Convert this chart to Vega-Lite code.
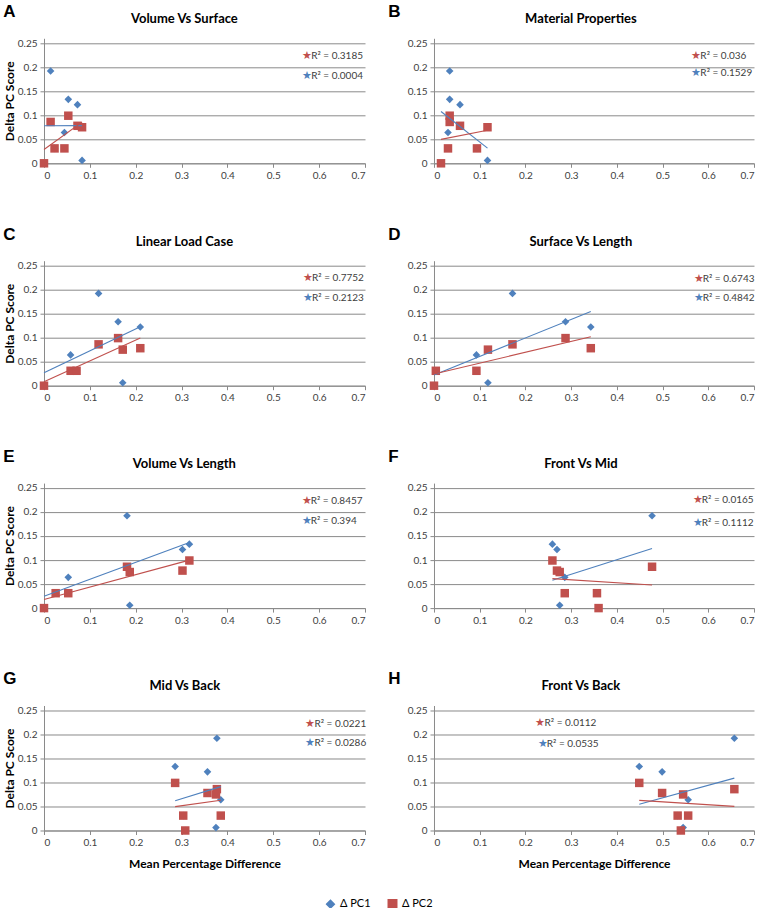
{
"$schema": "https://vega.github.io/schema/vega-lite/v6.json",
"padding": {"left": 3, "top": 2.3, "right": 2, "bottom": 0},
"datasets": {
"pts": [
{"p":"A","s":"Δ PC1","x":0.0144,"y":0.192},{"p":"A","s":"Δ PC1","x":0.053,"y":0.133},{"p":"A","s":"Δ PC1","x":0.073,"y":0.122},{"p":"A","s":"Δ PC1","x":0.0445,"y":0.064},{"p":"A","s":"Δ PC1","x":0.083,"y":0.006},{"p":"A","s":"Δ PC1","x":0,"y":0},{"p":"A","s":"Δ PC1","x":0.023,"y":0.031},
{"p":"A","s":"Δ PC2","x":0.0144,"y":0.086},{"p":"A","s":"Δ PC2","x":0.053,"y":0.099},{"p":"A","s":"Δ PC2","x":0.073,"y":0.078},{"p":"A","s":"Δ PC2","x":0.0445,"y":0.031},{"p":"A","s":"Δ PC2","x":0.083,"y":0.075},{"p":"A","s":"Δ PC2","x":0,"y":0},{"p":"A","s":"Δ PC2","x":0.023,"y":0.031},
{"p":"B","s":"Δ PC1","x":0.0343,"y":0.192},{"p":"B","s":"Δ PC1","x":0.0343,"y":0.133},{"p":"B","s":"Δ PC1","x":0.0569,"y":0.122},{"p":"B","s":"Δ PC1","x":0.0306,"y":0.064},{"p":"B","s":"Δ PC1","x":0.117,"y":0.006},{"p":"B","s":"Δ PC1","x":0.0153,"y":0},{"p":"B","s":"Δ PC1","x":0.094,"y":0.031},
{"p":"B","s":"Δ PC2","x":0.0343,"y":0.086},{"p":"B","s":"Δ PC2","x":0.0343,"y":0.099},{"p":"B","s":"Δ PC2","x":0.0569,"y":0.078},{"p":"B","s":"Δ PC2","x":0.0306,"y":0.031},{"p":"B","s":"Δ PC2","x":0.117,"y":0.075},{"p":"B","s":"Δ PC2","x":0.0153,"y":0},{"p":"B","s":"Δ PC2","x":0.094,"y":0.031},
{"p":"C","s":"Δ PC1","x":0.119,"y":0.192},{"p":"C","s":"Δ PC1","x":0.1616,"y":0.133},{"p":"C","s":"Δ PC1","x":0.21,"y":0.122},{"p":"C","s":"Δ PC1","x":0.058,"y":0.064},{"p":"C","s":"Δ PC1","x":0.1717,"y":0.006},{"p":"C","s":"Δ PC1","x":0,"y":0},{"p":"C","s":"Δ PC1","x":0.071,"y":0.031},
{"p":"C","s":"Δ PC2","x":0.119,"y":0.086},{"p":"C","s":"Δ PC2","x":0.1616,"y":0.099},{"p":"C","s":"Δ PC2","x":0.21,"y":0.078},{"p":"C","s":"Δ PC2","x":0.058,"y":0.031},{"p":"C","s":"Δ PC2","x":0.1717,"y":0.075},{"p":"C","s":"Δ PC2","x":0,"y":0},{"p":"C","s":"Δ PC2","x":0.071,"y":0.031},
{"p":"D","s":"Δ PC1","x":0.1717,"y":0.192},{"p":"D","s":"Δ PC1","x":0.2877,"y":0.133},{"p":"D","s":"Δ PC1","x":0.343,"y":0.122},{"p":"D","s":"Δ PC1","x":0.0928,"y":0.064},{"p":"D","s":"Δ PC1","x":0.118,"y":0.006},{"p":"D","s":"Δ PC1","x":0,"y":0},{"p":"D","s":"Δ PC1","x":0.004,"y":0.031},
{"p":"D","s":"Δ PC2","x":0.1717,"y":0.086},{"p":"D","s":"Δ PC2","x":0.2877,"y":0.099},{"p":"D","s":"Δ PC2","x":0.343,"y":0.078},{"p":"D","s":"Δ PC2","x":0.0928,"y":0.031},{"p":"D","s":"Δ PC2","x":0.118,"y":0.075},{"p":"D","s":"Δ PC2","x":0,"y":0},{"p":"D","s":"Δ PC2","x":0.004,"y":0.031},
{"p":"E","s":"Δ PC1","x":0.181,"y":0.192},{"p":"E","s":"Δ PC1","x":0.317,"y":0.133},{"p":"E","s":"Δ PC1","x":0.302,"y":0.122},{"p":"E","s":"Δ PC1","x":0.0529,"y":0.064},{"p":"E","s":"Δ PC1","x":0.187,"y":0.006},{"p":"E","s":"Δ PC1","x":0,"y":0},{"p":"E","s":"Δ PC1","x":0.0254,"y":0.031},
{"p":"E","s":"Δ PC2","x":0.181,"y":0.086},{"p":"E","s":"Δ PC2","x":0.317,"y":0.099},{"p":"E","s":"Δ PC2","x":0.302,"y":0.078},{"p":"E","s":"Δ PC2","x":0.0529,"y":0.031},{"p":"E","s":"Δ PC2","x":0.187,"y":0.075},{"p":"E","s":"Δ PC2","x":0,"y":0},{"p":"E","s":"Δ PC2","x":0.0254,"y":0.031},
{"p":"F","s":"Δ PC1","x":0.477,"y":0.192},{"p":"F","s":"Δ PC1","x":0.259,"y":0.133},{"p":"F","s":"Δ PC1","x":0.269,"y":0.122},{"p":"F","s":"Δ PC1","x":0.286,"y":0.064},{"p":"F","s":"Δ PC1","x":0.275,"y":0.006},{"p":"F","s":"Δ PC1","x":0.36,"y":0},{"p":"F","s":"Δ PC1","x":0.3565,"y":0.031},
{"p":"F","s":"Δ PC2","x":0.477,"y":0.086},{"p":"F","s":"Δ PC2","x":0.259,"y":0.099},{"p":"F","s":"Δ PC2","x":0.269,"y":0.078},{"p":"F","s":"Δ PC2","x":0.286,"y":0.031},{"p":"F","s":"Δ PC2","x":0.275,"y":0.075},{"p":"F","s":"Δ PC2","x":0.36,"y":0},{"p":"F","s":"Δ PC2","x":0.3565,"y":0.031},
{"p":"G","s":"Δ PC1","x":0.377,"y":0.192},{"p":"G","s":"Δ PC1","x":0.286,"y":0.133},{"p":"G","s":"Δ PC1","x":0.3565,"y":0.122},{"p":"G","s":"Δ PC1","x":0.3855,"y":0.064},{"p":"G","s":"Δ PC1","x":0.375,"y":0.006},{"p":"G","s":"Δ PC1","x":0.308,"y":0},{"p":"G","s":"Δ PC1","x":0.3036,"y":0.031},
{"p":"G","s":"Δ PC2","x":0.377,"y":0.086},{"p":"G","s":"Δ PC2","x":0.286,"y":0.099},{"p":"G","s":"Δ PC2","x":0.3565,"y":0.078},{"p":"G","s":"Δ PC2","x":0.3855,"y":0.031},{"p":"G","s":"Δ PC2","x":0.375,"y":0.075},{"p":"G","s":"Δ PC2","x":0.308,"y":0},{"p":"G","s":"Δ PC2","x":0.3036,"y":0.031},
{"p":"H","s":"Δ PC1","x":0.657,"y":0.192},{"p":"H","s":"Δ PC1","x":0.449,"y":0.133},{"p":"H","s":"Δ PC1","x":0.499,"y":0.122},{"p":"H","s":"Δ PC1","x":0.556,"y":0.064},{"p":"H","s":"Δ PC1","x":0.545,"y":0.006},{"p":"H","s":"Δ PC1","x":0.54,"y":0},{"p":"H","s":"Δ PC1","x":0.533,"y":0.031},
{"p":"H","s":"Δ PC2","x":0.657,"y":0.086},{"p":"H","s":"Δ PC2","x":0.449,"y":0.099},{"p":"H","s":"Δ PC2","x":0.499,"y":0.078},{"p":"H","s":"Δ PC2","x":0.556,"y":0.031},{"p":"H","s":"Δ PC2","x":0.545,"y":0.075},{"p":"H","s":"Δ PC2","x":0.54,"y":0},{"p":"H","s":"Δ PC2","x":0.533,"y":0.031}
],
"ann": [
{"p":"A","s":"Δ PC2","t":"R² = 0.3185"},{"p":"A","s":"Δ PC1","t":"R² = 0.0004"},
{"p":"B","s":"Δ PC2","t":"R² = 0.036"},{"p":"B","s":"Δ PC1","t":"R² = 0.1529"},
{"p":"C","s":"Δ PC2","t":"R² = 0.7752"},{"p":"C","s":"Δ PC1","t":"R² = 0.2123"},
{"p":"D","s":"Δ PC2","t":"R² = 0.6743"},{"p":"D","s":"Δ PC1","t":"R² = 0.4842"},
{"p":"E","s":"Δ PC2","t":"R² = 0.8457"},{"p":"E","s":"Δ PC1","t":"R² = 0.394"},
{"p":"F","s":"Δ PC2","t":"R² = 0.0165"},{"p":"F","s":"Δ PC1","t":"R² = 0.1112"},
{"p":"G","s":"Δ PC2","t":"R² = 0.0221"},{"p":"G","s":"Δ PC1","t":"R² = 0.0286"},
{"p":"H","s":"Δ PC2","t":"R² = 0.0112"},{"p":"H","s":"Δ PC1","t":"R² = 0.0535"}
]
},
"columns": 2,
"spacing": {"row": 44.4, "column": 21},
"concat": [
{"title": {"text": "A", "anchor": "start", "frame": "bounds", "font": "Liberation Sans", "fontSize": 17, "fontWeight": "bold", "offset": -8},
 "vconcat": [{"title": {"text": "Volume Vs Surface", "frame": "bounds", "anchor": "middle", "offset": 12},
  "width": 321, "height": 125,
  "data": {"name": "pts"}, "transform": [{"filter": "datum.p === 'A'"}],
  "layer": [
   {"mark": {"type": "point", "filled": true, "opacity": 1},
    "encoding": {"x": {"field": "x", "type": "quantitative", "scale": {"domain": [0, 0.7]}, "title": null},
     "y": {"field": "y", "type": "quantitative", "scale": {"domain": [0, 0.25]}, "title": "Delta PC Score"},
     "color": {"field": "s", "type": "nominal", "title": null, "legend": {"orient": "bottom", "direction": "horizontal"}, "scale": {"domain": ["Δ PC1", "Δ PC2"], "range": ["#4F81BD", "#C0504D"]}},
     "shape": {"field": "s", "type": "nominal", "title": null, "legend": {"orient": "bottom", "direction": "horizontal"}, "scale": {"domain": ["Δ PC1", "Δ PC2"], "range": ["diamond", "square"]}},
     "size": {"field": "s", "type": "ordinal", "legend": null, "scale": {"domain": ["Δ PC1", "Δ PC2"], "range": [58, 72]}}}},
   {"transform": [{"regression": "y", "on": "x", "groupby": ["s"]}], "mark": {"type": "line", "strokeWidth": 1.1},
    "encoding": {"x": {"field": "x", "type": "quantitative"}, "y": {"field": "y", "type": "quantitative"}, "color": {"field": "s", "type": "nominal", "legend": null}}},
   {"data": {"name": "ann"}, "transform": [{"filter": "datum.p === 'A' && datum.s === 'Δ PC2'"}], "mark": {"type": "text", "text": "★", "align": "left", "baseline": "middle", "fontSize": 11, "color": "#C0504D"}, "encoding": {"x": {"datum": 0.563}, "y": {"datum": 0.223}}},
   {"data": {"name": "ann"}, "transform": [{"filter": "datum.p === 'A' && datum.s === 'Δ PC2'"}], "mark": {"type": "text", "align": "left", "baseline": "middle", "dx": 9, "fontSize": 10, "color": "#404040"}, "encoding": {"x": {"datum": 0.563}, "y": {"datum": 0.223}, "text": {"field": "t"}}},
   {"data": {"name": "ann"}, "transform": [{"filter": "datum.p === 'A' && datum.s === 'Δ PC1'"}], "mark": {"type": "text", "text": "★", "align": "left", "baseline": "middle", "fontSize": 11, "color": "#4F81BD"}, "encoding": {"x": {"datum": 0.563}, "y": {"datum": 0.181}}},
   {"data": {"name": "ann"}, "transform": [{"filter": "datum.p === 'A' && datum.s === 'Δ PC1'"}], "mark": {"type": "text", "align": "left", "baseline": "middle", "dx": 9, "fontSize": 10, "color": "#404040"}, "encoding": {"x": {"datum": 0.563}, "y": {"datum": 0.181}, "text": {"field": "t"}}}
  ]}]},
{"title": {"text": "B", "anchor": "start", "frame": "bounds", "font": "Liberation Sans", "fontSize": 17, "fontWeight": "bold", "offset": -8, "dx": -19},
 "vconcat": [{"title": {"text": "Material Properties", "frame": "bounds", "anchor": "middle", "offset": 12},
  "width": 320, "height": 125,
  "data": {"name": "pts"}, "transform": [{"filter": "datum.p === 'B'"}],
  "layer": [
   {"mark": {"type": "point", "filled": true, "opacity": 1},
    "encoding": {"x": {"field": "x", "type": "quantitative", "scale": {"domain": [0, 0.7]}, "title": null},
     "y": {"field": "y", "type": "quantitative", "scale": {"domain": [0, 0.25]}, "title": null},
     "color": {"field": "s", "type": "nominal", "title": null, "scale": {"domain": ["Δ PC1", "Δ PC2"], "range": ["#4F81BD", "#C0504D"]}},
     "shape": {"field": "s", "type": "nominal", "title": null, "scale": {"domain": ["Δ PC1", "Δ PC2"], "range": ["diamond", "square"]}},
     "size": {"field": "s", "type": "ordinal", "legend": null, "scale": {"domain": ["Δ PC1", "Δ PC2"], "range": [58, 72]}}}},
   {"transform": [{"regression": "y", "on": "x", "groupby": ["s"]}], "mark": {"type": "line", "strokeWidth": 1.1},
    "encoding": {"x": {"field": "x", "type": "quantitative"}, "y": {"field": "y", "type": "quantitative"}, "color": {"field": "s", "type": "nominal", "legend": null}}},
   {"data": {"name": "ann"}, "transform": [{"filter": "datum.p === 'B' && datum.s === 'Δ PC2'"}], "mark": {"type": "text", "text": "★", "align": "left", "baseline": "middle", "fontSize": 11, "color": "#C0504D"}, "encoding": {"x": {"datum": 0.563}, "y": {"datum": 0.223}}},
   {"data": {"name": "ann"}, "transform": [{"filter": "datum.p === 'B' && datum.s === 'Δ PC2'"}], "mark": {"type": "text", "align": "left", "baseline": "middle", "dx": 9, "fontSize": 10, "color": "#404040"}, "encoding": {"x": {"datum": 0.563}, "y": {"datum": 0.223}, "text": {"field": "t"}}},
   {"data": {"name": "ann"}, "transform": [{"filter": "datum.p === 'B' && datum.s === 'Δ PC1'"}], "mark": {"type": "text", "text": "★", "align": "left", "baseline": "middle", "fontSize": 11, "color": "#4F81BD"}, "encoding": {"x": {"datum": 0.563}, "y": {"datum": 0.187}}},
   {"data": {"name": "ann"}, "transform": [{"filter": "datum.p === 'B' && datum.s === 'Δ PC1'"}], "mark": {"type": "text", "align": "left", "baseline": "middle", "dx": 9, "fontSize": 10, "color": "#404040"}, "encoding": {"x": {"datum": 0.563}, "y": {"datum": 0.187}, "text": {"field": "t"}}}
  ]}]},
{"title": {"text": "C", "anchor": "start", "frame": "bounds", "font": "Liberation Sans", "fontSize": 17, "fontWeight": "bold", "offset": -8},
 "vconcat": [{"title": {"text": "Linear Load Case", "frame": "bounds", "anchor": "middle", "offset": 12},
  "width": 321, "height": 125,
  "data": {"name": "pts"}, "transform": [{"filter": "datum.p === 'C'"}],
  "layer": [
   {"mark": {"type": "point", "filled": true, "opacity": 1},
    "encoding": {"x": {"field": "x", "type": "quantitative", "scale": {"domain": [0, 0.7]}, "title": null},
     "y": {"field": "y", "type": "quantitative", "scale": {"domain": [0, 0.25]}, "title": "Delta PC Score"},
     "color": {"field": "s", "type": "nominal", "title": null, "scale": {"domain": ["Δ PC1", "Δ PC2"], "range": ["#4F81BD", "#C0504D"]}},
     "shape": {"field": "s", "type": "nominal", "title": null, "scale": {"domain": ["Δ PC1", "Δ PC2"], "range": ["diamond", "square"]}},
     "size": {"field": "s", "type": "ordinal", "legend": null, "scale": {"domain": ["Δ PC1", "Δ PC2"], "range": [58, 72]}}}},
   {"transform": [{"regression": "y", "on": "x", "groupby": ["s"]}], "mark": {"type": "line", "strokeWidth": 1.1},
    "encoding": {"x": {"field": "x", "type": "quantitative"}, "y": {"field": "y", "type": "quantitative"}, "color": {"field": "s", "type": "nominal", "legend": null}}},
   {"data": {"name": "ann"}, "transform": [{"filter": "datum.p === 'C' && datum.s === 'Δ PC2'"}], "mark": {"type": "text", "text": "★", "align": "left", "baseline": "middle", "fontSize": 11, "color": "#C0504D"}, "encoding": {"x": {"datum": 0.565}, "y": {"datum": 0.223}}},
   {"data": {"name": "ann"}, "transform": [{"filter": "datum.p === 'C' && datum.s === 'Δ PC2'"}], "mark": {"type": "text", "align": "left", "baseline": "middle", "dx": 9, "fontSize": 10, "color": "#404040"}, "encoding": {"x": {"datum": 0.565}, "y": {"datum": 0.223}, "text": {"field": "t"}}},
   {"data": {"name": "ann"}, "transform": [{"filter": "datum.p === 'C' && datum.s === 'Δ PC1'"}], "mark": {"type": "text", "text": "★", "align": "left", "baseline": "middle", "fontSize": 11, "color": "#4F81BD"}, "encoding": {"x": {"datum": 0.565}, "y": {"datum": 0.183}}},
   {"data": {"name": "ann"}, "transform": [{"filter": "datum.p === 'C' && datum.s === 'Δ PC1'"}], "mark": {"type": "text", "align": "left", "baseline": "middle", "dx": 9, "fontSize": 10, "color": "#404040"}, "encoding": {"x": {"datum": 0.565}, "y": {"datum": 0.183}, "text": {"field": "t"}}}
  ]}]},
{"title": {"text": "D", "anchor": "start", "frame": "bounds", "font": "Liberation Sans", "fontSize": 17, "fontWeight": "bold", "offset": -8, "dx": -19},
 "vconcat": [{"title": {"text": "Surface Vs Length", "frame": "bounds", "anchor": "middle", "offset": 12},
  "width": 320, "height": 125,
  "data": {"name": "pts"}, "transform": [{"filter": "datum.p === 'D'"}],
  "layer": [
   {"mark": {"type": "point", "filled": true, "opacity": 1},
    "encoding": {"x": {"field": "x", "type": "quantitative", "scale": {"domain": [0, 0.7]}, "title": null},
     "y": {"field": "y", "type": "quantitative", "scale": {"domain": [0, 0.25]}, "title": null},
     "color": {"field": "s", "type": "nominal", "title": null, "scale": {"domain": ["Δ PC1", "Δ PC2"], "range": ["#4F81BD", "#C0504D"]}},
     "shape": {"field": "s", "type": "nominal", "title": null, "scale": {"domain": ["Δ PC1", "Δ PC2"], "range": ["diamond", "square"]}},
     "size": {"field": "s", "type": "ordinal", "legend": null, "scale": {"domain": ["Δ PC1", "Δ PC2"], "range": [58, 72]}}}},
   {"transform": [{"regression": "y", "on": "x", "groupby": ["s"]}], "mark": {"type": "line", "strokeWidth": 1.1},
    "encoding": {"x": {"field": "x", "type": "quantitative"}, "y": {"field": "y", "type": "quantitative"}, "color": {"field": "s", "type": "nominal", "legend": null}}},
   {"data": {"name": "ann"}, "transform": [{"filter": "datum.p === 'D' && datum.s === 'Δ PC2'"}], "mark": {"type": "text", "text": "★", "align": "left", "baseline": "middle", "fontSize": 11, "color": "#C0504D"}, "encoding": {"x": {"datum": 0.568}, "y": {"datum": 0.222}}},
   {"data": {"name": "ann"}, "transform": [{"filter": "datum.p === 'D' && datum.s === 'Δ PC2'"}], "mark": {"type": "text", "align": "left", "baseline": "middle", "dx": 9, "fontSize": 10, "color": "#404040"}, "encoding": {"x": {"datum": 0.568}, "y": {"datum": 0.222}, "text": {"field": "t"}}},
   {"data": {"name": "ann"}, "transform": [{"filter": "datum.p === 'D' && datum.s === 'Δ PC1'"}], "mark": {"type": "text", "text": "★", "align": "left", "baseline": "middle", "fontSize": 11, "color": "#4F81BD"}, "encoding": {"x": {"datum": 0.568}, "y": {"datum": 0.182}}},
   {"data": {"name": "ann"}, "transform": [{"filter": "datum.p === 'D' && datum.s === 'Δ PC1'"}], "mark": {"type": "text", "align": "left", "baseline": "middle", "dx": 9, "fontSize": 10, "color": "#404040"}, "encoding": {"x": {"datum": 0.568}, "y": {"datum": 0.182}, "text": {"field": "t"}}}
  ]}]},
{"title": {"text": "E", "anchor": "start", "frame": "bounds", "font": "Liberation Sans", "fontSize": 17, "fontWeight": "bold", "offset": -8},
 "vconcat": [{"title": {"text": "Volume Vs Length", "frame": "bounds", "anchor": "middle", "offset": 12},
  "width": 321, "height": 125,
  "data": {"name": "pts"}, "transform": [{"filter": "datum.p === 'E'"}],
  "layer": [
   {"mark": {"type": "point", "filled": true, "opacity": 1},
    "encoding": {"x": {"field": "x", "type": "quantitative", "scale": {"domain": [0, 0.7]}, "title": null},
     "y": {"field": "y", "type": "quantitative", "scale": {"domain": [0, 0.25]}, "title": "Delta PC Score"},
     "color": {"field": "s", "type": "nominal", "title": null, "scale": {"domain": ["Δ PC1", "Δ PC2"], "range": ["#4F81BD", "#C0504D"]}},
     "shape": {"field": "s", "type": "nominal", "title": null, "scale": {"domain": ["Δ PC1", "Δ PC2"], "range": ["diamond", "square"]}},
     "size": {"field": "s", "type": "ordinal", "legend": null, "scale": {"domain": ["Δ PC1", "Δ PC2"], "range": [58, 72]}}}},
   {"transform": [{"regression": "y", "on": "x", "groupby": ["s"]}], "mark": {"type": "line", "strokeWidth": 1.1},
    "encoding": {"x": {"field": "x", "type": "quantitative"}, "y": {"field": "y", "type": "quantitative"}, "color": {"field": "s", "type": "nominal", "legend": null}}},
   {"data": {"name": "ann"}, "transform": [{"filter": "datum.p === 'E' && datum.s === 'Δ PC2'"}], "mark": {"type": "text", "text": "★", "align": "left", "baseline": "middle", "fontSize": 11, "color": "#C0504D"}, "encoding": {"x": {"datum": 0.562}, "y": {"datum": 0.222}}},
   {"data": {"name": "ann"}, "transform": [{"filter": "datum.p === 'E' && datum.s === 'Δ PC2'"}], "mark": {"type": "text", "align": "left", "baseline": "middle", "dx": 9, "fontSize": 10, "color": "#404040"}, "encoding": {"x": {"datum": 0.562}, "y": {"datum": 0.222}, "text": {"field": "t"}}},
   {"data": {"name": "ann"}, "transform": [{"filter": "datum.p === 'E' && datum.s === 'Δ PC1'"}], "mark": {"type": "text", "text": "★", "align": "left", "baseline": "middle", "fontSize": 11, "color": "#4F81BD"}, "encoding": {"x": {"datum": 0.562}, "y": {"datum": 0.181}}},
   {"data": {"name": "ann"}, "transform": [{"filter": "datum.p === 'E' && datum.s === 'Δ PC1'"}], "mark": {"type": "text", "align": "left", "baseline": "middle", "dx": 9, "fontSize": 10, "color": "#404040"}, "encoding": {"x": {"datum": 0.562}, "y": {"datum": 0.181}, "text": {"field": "t"}}}
  ]}]},
{"title": {"text": "F", "anchor": "start", "frame": "bounds", "font": "Liberation Sans", "fontSize": 17, "fontWeight": "bold", "offset": -8, "dx": -19},
 "vconcat": [{"title": {"text": "Front Vs Mid", "frame": "bounds", "anchor": "middle", "offset": 12},
  "width": 320, "height": 125,
  "data": {"name": "pts"}, "transform": [{"filter": "datum.p === 'F'"}],
  "layer": [
   {"mark": {"type": "point", "filled": true, "opacity": 1},
    "encoding": {"x": {"field": "x", "type": "quantitative", "scale": {"domain": [0, 0.7]}, "title": null},
     "y": {"field": "y", "type": "quantitative", "scale": {"domain": [0, 0.25]}, "title": null},
     "color": {"field": "s", "type": "nominal", "title": null, "scale": {"domain": ["Δ PC1", "Δ PC2"], "range": ["#4F81BD", "#C0504D"]}},
     "shape": {"field": "s", "type": "nominal", "title": null, "scale": {"domain": ["Δ PC1", "Δ PC2"], "range": ["diamond", "square"]}},
     "size": {"field": "s", "type": "ordinal", "legend": null, "scale": {"domain": ["Δ PC1", "Δ PC2"], "range": [58, 72]}}}},
   {"transform": [{"regression": "y", "on": "x", "groupby": ["s"]}], "mark": {"type": "line", "strokeWidth": 1.1},
    "encoding": {"x": {"field": "x", "type": "quantitative"}, "y": {"field": "y", "type": "quantitative"}, "color": {"field": "s", "type": "nominal", "legend": null}}},
   {"data": {"name": "ann"}, "transform": [{"filter": "datum.p === 'F' && datum.s === 'Δ PC2'"}], "mark": {"type": "text", "text": "★", "align": "left", "baseline": "middle", "fontSize": 11, "color": "#C0504D"}, "encoding": {"x": {"datum": 0.566}, "y": {"datum": 0.224}}},
   {"data": {"name": "ann"}, "transform": [{"filter": "datum.p === 'F' && datum.s === 'Δ PC2'"}], "mark": {"type": "text", "align": "left", "baseline": "middle", "dx": 9, "fontSize": 10, "color": "#404040"}, "encoding": {"x": {"datum": 0.566}, "y": {"datum": 0.224}, "text": {"field": "t"}}},
   {"data": {"name": "ann"}, "transform": [{"filter": "datum.p === 'F' && datum.s === 'Δ PC1'"}], "mark": {"type": "text", "text": "★", "align": "left", "baseline": "middle", "fontSize": 11, "color": "#4F81BD"}, "encoding": {"x": {"datum": 0.566}, "y": {"datum": 0.178}}},
   {"data": {"name": "ann"}, "transform": [{"filter": "datum.p === 'F' && datum.s === 'Δ PC1'"}], "mark": {"type": "text", "align": "left", "baseline": "middle", "dx": 9, "fontSize": 10, "color": "#404040"}, "encoding": {"x": {"datum": 0.566}, "y": {"datum": 0.178}, "text": {"field": "t"}}}
  ]}]},
{"title": {"text": "G", "anchor": "start", "frame": "bounds", "font": "Liberation Sans", "fontSize": 17, "fontWeight": "bold", "offset": -8},
 "vconcat": [{"title": {"text": "Mid Vs Back", "frame": "bounds", "anchor": "middle", "offset": 12},
  "width": 321, "height": 125,
  "data": {"name": "pts"}, "transform": [{"filter": "datum.p === 'G'"}],
  "layer": [
   {"mark": {"type": "point", "filled": true, "opacity": 1},
    "encoding": {"x": {"field": "x", "type": "quantitative", "scale": {"domain": [0, 0.7]}, "title": "Mean Percentage Difference"},
     "y": {"field": "y", "type": "quantitative", "scale": {"domain": [0, 0.25]}, "title": "Delta PC Score"},
     "color": {"field": "s", "type": "nominal", "title": null, "scale": {"domain": ["Δ PC1", "Δ PC2"], "range": ["#4F81BD", "#C0504D"]}},
     "shape": {"field": "s", "type": "nominal", "title": null, "scale": {"domain": ["Δ PC1", "Δ PC2"], "range": ["diamond", "square"]}},
     "size": {"field": "s", "type": "ordinal", "legend": null, "scale": {"domain": ["Δ PC1", "Δ PC2"], "range": [58, 72]}}}},
   {"transform": [{"regression": "y", "on": "x", "groupby": ["s"]}], "mark": {"type": "line", "strokeWidth": 1.1},
    "encoding": {"x": {"field": "x", "type": "quantitative"}, "y": {"field": "y", "type": "quantitative"}, "color": {"field": "s", "type": "nominal", "legend": null}}},
   {"data": {"name": "ann"}, "transform": [{"filter": "datum.p === 'G' && datum.s === 'Δ PC2'"}], "mark": {"type": "text", "text": "★", "align": "left", "baseline": "middle", "fontSize": 11, "color": "#C0504D"}, "encoding": {"x": {"datum": 0.57}, "y": {"datum": 0.222}}},
   {"data": {"name": "ann"}, "transform": [{"filter": "datum.p === 'G' && datum.s === 'Δ PC2'"}], "mark": {"type": "text", "align": "left", "baseline": "middle", "dx": 9, "fontSize": 10, "color": "#404040"}, "encoding": {"x": {"datum": 0.57}, "y": {"datum": 0.222}, "text": {"field": "t"}}},
   {"data": {"name": "ann"}, "transform": [{"filter": "datum.p === 'G' && datum.s === 'Δ PC1'"}], "mark": {"type": "text", "text": "★", "align": "left", "baseline": "middle", "fontSize": 11, "color": "#4F81BD"}, "encoding": {"x": {"datum": 0.57}, "y": {"datum": 0.182}}},
   {"data": {"name": "ann"}, "transform": [{"filter": "datum.p === 'G' && datum.s === 'Δ PC1'"}], "mark": {"type": "text", "align": "left", "baseline": "middle", "dx": 9, "fontSize": 10, "color": "#404040"}, "encoding": {"x": {"datum": 0.57}, "y": {"datum": 0.182}, "text": {"field": "t"}}}
  ]}]},
{"title": {"text": "H", "anchor": "start", "frame": "bounds", "font": "Liberation Sans", "fontSize": 17, "fontWeight": "bold", "offset": -8, "dx": -19},
 "vconcat": [{"title": {"text": "Front Vs Back", "frame": "bounds", "anchor": "middle", "offset": 12},
  "width": 320, "height": 125,
  "data": {"name": "pts"}, "transform": [{"filter": "datum.p === 'H'"}],
  "layer": [
   {"mark": {"type": "point", "filled": true, "opacity": 1},
    "encoding": {"x": {"field": "x", "type": "quantitative", "scale": {"domain": [0, 0.7]}, "title": "Mean Percentage Difference"},
     "y": {"field": "y", "type": "quantitative", "scale": {"domain": [0, 0.25]}, "title": null},
     "color": {"field": "s", "type": "nominal", "title": null, "scale": {"domain": ["Δ PC1", "Δ PC2"], "range": ["#4F81BD", "#C0504D"]}},
     "shape": {"field": "s", "type": "nominal", "title": null, "scale": {"domain": ["Δ PC1", "Δ PC2"], "range": ["diamond", "square"]}},
     "size": {"field": "s", "type": "ordinal", "legend": null, "scale": {"domain": ["Δ PC1", "Δ PC2"], "range": [58, 72]}}}},
   {"transform": [{"regression": "y", "on": "x", "groupby": ["s"]}], "mark": {"type": "line", "strokeWidth": 1.1},
    "encoding": {"x": {"field": "x", "type": "quantitative"}, "y": {"field": "y", "type": "quantitative"}, "color": {"field": "s", "type": "nominal", "legend": null}}},
   {"data": {"name": "ann"}, "transform": [{"filter": "datum.p === 'H' && datum.s === 'Δ PC2'"}], "mark": {"type": "text", "text": "★", "align": "left", "baseline": "middle", "fontSize": 11, "color": "#C0504D"}, "encoding": {"x": {"datum": 0.222}, "y": {"datum": 0.224}}},
   {"data": {"name": "ann"}, "transform": [{"filter": "datum.p === 'H' && datum.s === 'Δ PC2'"}], "mark": {"type": "text", "align": "left", "baseline": "middle", "dx": 9, "fontSize": 10, "color": "#404040"}, "encoding": {"x": {"datum": 0.222}, "y": {"datum": 0.224}, "text": {"field": "t"}}},
   {"data": {"name": "ann"}, "transform": [{"filter": "datum.p === 'H' && datum.s === 'Δ PC1'"}], "mark": {"type": "text", "text": "★", "align": "left", "baseline": "middle", "fontSize": 11, "color": "#4F81BD"}, "encoding": {"x": {"datum": 0.227}, "y": {"datum": 0.18}}},
   {"data": {"name": "ann"}, "transform": [{"filter": "datum.p === 'H' && datum.s === 'Δ PC1'"}], "mark": {"type": "text", "align": "left", "baseline": "middle", "dx": 9, "fontSize": 10, "color": "#404040"}, "encoding": {"x": {"datum": 0.227}, "y": {"datum": 0.18}, "text": {"field": "t"}}}
  ]}]}
],
"config": {
  "font": "Lato",
  "numberFormat": "~g",
  "view": {"stroke": null},
  "axis": {"labelFont": "Lato", "labelFontSize": 10, "labelColor": "#404040", "titleFont": "Lato", "titleFontSize": 12, "titleFontWeight": "bold", "titleColor": "#000000", "domainColor": "#8a8a8a", "tickColor": "#8a8a8a", "tickSize": 4, "labelPadding": 3, "gridColor": "#8a8a8a", "gridOpacity": 1, "titlePadding": 1},
  "axisX": {"grid": false, "tickCount": 7, "titlePadding": 11},
  "axisY": {"grid": true, "tickCount": 5},
  "title": {"font": "Lato", "fontSize": 13, "fontWeight": "bold", "color": "#000000"},
  "legend": {"labelFont": "Lato", "labelFontSize": 11, "labelColor": "#000000", "symbolSize": 55, "columnPadding": 14, "offset": 28, "layout": {"bottom": {"anchor": "middle"}}}
}
}
